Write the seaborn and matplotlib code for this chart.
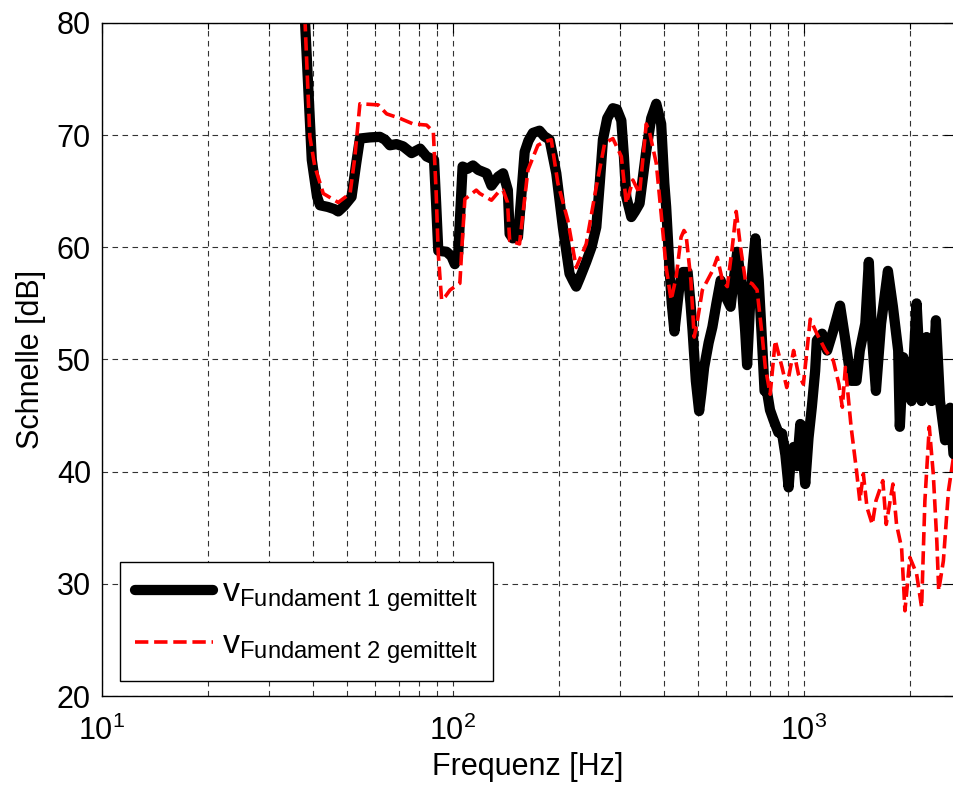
import matplotlib
matplotlib.use("Agg")
import matplotlib.pyplot as plt
import numpy as np
import pandas as pd
import seaborn as sns
from matplotlib.ticker import LogLocator, FixedLocator, NullFormatter

# Averaged velocity level over frequency, foundation 1
freq_1 = [36.5, 37.9, 39.0, 39.6, 41.0, 41.8, 44.0, 46.0, 47.1, 49.0, 51.4, 53.0,
          54.3, 58.0, 61.9, 64.0, 66.1, 69.0, 72.1, 76.2, 80.6, 84.1, 88.3, 89.5,
          90.8, 95.9, 99.0, 101.2, 103.5, 106.5, 110, 114, 118, 124.6, 128.7, 134.5,
          138.9, 143.3, 145, 148, 153.1, 156, 160, 164, 168.9, 176.4, 182, 188.4,
          196.9, 205.6, 214.8, 220, 224.4, 230, 239.6, 248, 256, 262, 267.4, 275,
          285.4, 293, 301.7, 307, 311.7, 322.1, 330, 340, 355.3, 367, 379.4, 391.8,
          400, 404.8, 413.8, 420, 427.4, 441.5, 452, 466, 475, 481.4, 491.9, 502.6,
          510, 519.4, 535, 548.3, 563, 578.9, 598.1, 617.8, 630, 645.3, 655, 666.5,
          680, 688.5, 703.7, 715, 727, 743, 759, 772, 784, 800, 819, 845, 866, 885, 904,
          918, 934, 955, 976, 1008, 1030, 1053, 1076, 1088, 1126, 1164, 1212, 1267, 1312, 1362,
          1411, 1442, 1495, 1530, 1565, 1603, 1658, 1734, 1792, 1855, 1875, 1918,
          1960, 2025, 2093, 2163, 2235, 2310, 2376, 2440, 2523, 2608, 2666, 2750]
level_1 = [90, 80, 72, 67.8, 64.5, 63.75, 63.6, 63.4, 63.2, 63.7, 64.5, 67.5,
           69.7, 69.8, 69.85, 69.6, 69.1, 69.2, 69.0, 68.4, 68.8, 68.1, 67.8, 64,
           59.7, 59.6, 59.2, 58.5, 59.5, 67.2, 67.0, 67.3, 66.9, 66.6, 65.5, 66.3,
           66.6, 65.1, 61.2, 60.8, 60.9, 64, 68.5, 69.5, 70.2, 70.4, 69.9, 69.6,
           66.6, 61.8, 57.65, 57.0, 56.5, 57.3, 58.7, 60, 61.8, 65.8, 69.6, 71.5,
           72.4, 72.3, 71.3, 68, 64.5, 62.7, 63.2, 63.9, 68.6, 71.5, 72.8, 71.0,
           65.7, 63.6, 58.2, 55, 52.5, 56.5, 57.8, 57.8, 55, 52.6, 48.1, 45.4,
           47, 49.3, 51.5, 52.9, 55, 57.05, 55.6, 54.7, 57, 59.6, 58, 56.2,
           52.5, 49.5, 55.6, 58.5, 60.8, 57.05, 51.7, 47.2, 47.2, 45.5, 44.6, 43.5, 43.4, 41.5, 38.6,
           41.5, 42.2, 40.5, 44.25, 38.9, 43, 45.8, 49, 51.7, 52.3, 50.8, 52.6, 54.8, 51.7, 48.1,
           48.1, 50.8, 53.2, 58.7, 51.7, 47.2, 53.2, 57.9, 54.7, 50.8, 44.0, 50.2,
           47.2, 46.3, 55.0, 46.3, 52.0, 46.3, 53.5, 46.3, 42.8, 45.7, 41.6, 41]

# Averaged velocity level over frequency, foundation 2
freq_2 = [36.5, 37.9, 39.1, 40.4, 42.7, 47.1, 50.9, 52.5, 54.3, 61.2, 64.7, 70.6,
          77, 84.1, 87.9, 89.5, 90.8, 92.8, 95, 98.1, 104.6, 106, 108.1, 116.5,
          119.2, 128.7, 134.5, 138.9, 143, 145, 154.7, 163.5, 174.5, 182, 190.5, 199,
          212.4, 224.4, 239.6, 256, 270.6, 285.4, 301.7, 311.7, 325.5, 340, 355.3, 363.3,
          379.4, 391.8, 404.8, 418.3, 432.3, 446.4, 455, 461, 476.2, 486.6, 497.2, 513.4,
          548.3, 566.2, 585.6, 604.6, 624.6, 641, 659.4, 680.8, 711.7, 734.9, 759, 776,
          801, 828, 866, 893, 934, 964, 996, 1042, 1088, 1152, 1212, 1257,
          1286, 1312, 1362, 1411, 1442, 1476, 1512, 1565, 1603, 1677, 1715, 1792,
          1835, 1897, 1939, 2003, 2093, 2163, 2210, 2275, 2335, 2390, 2420, 2495,
          2580, 2666, 2750]
level_2 = [90, 80, 69.85, 67.2, 64.8, 64.0, 64.8, 68, 72.8, 72.7, 71.9, 71.5,
           71.0, 70.9, 70.3, 65, 59.4, 55.3, 55.6, 56.2, 56.8, 60, 64.3, 65.1,
           64.8, 64.2, 64.9, 65.1, 64, 60.6, 60.3, 66.9, 69.1, 69.4, 69.6, 65.7,
           62.4, 58.2, 60.3, 65.4, 69.3, 69.7, 68.1, 63.9, 66.0, 64.8, 71.0, 70.2,
           67.5, 63.0, 58.2, 55.3, 57.35, 60.9, 61.5, 61.2, 57.05, 52.0, 53.5, 56.2,
           57.9, 59.1, 57.05, 56.5, 60.0, 63.2, 60.0, 57.05, 56.75, 56.2, 52.3, 49.3,
           46.9, 51.7, 49.3, 47.5, 50.8, 48.7, 47.8, 53.6, 52.3, 50.8, 49.9, 47.8,
           45.75, 49.3, 44.0, 40.1, 37.4, 39.8, 36.8, 35.3, 37.4, 39.2, 35.3, 38.9,
           35.3, 33.2, 27.6, 32.35, 30.9, 27.9, 37.4, 44.0, 39.8, 33.8, 29.4, 32.05,
           38.3, 41.3, 42]

y_ticks = [20, 30, 40, 50, 60, 70, 80]
label_1 = r"$\mathregular{v}_{\mathregular{Fundament\ 1\ gemittelt}}$"
label_2 = r"$\mathregular{v}_{\mathregular{Fundament\ 2\ gemittelt}}$"

sns.set_theme(style="white")
plt.rcParams["font.family"] = ["Liberation Sans", "DejaVu Sans"]
plt.rcParams["mathtext.fontset"] = "custom"
plt.rcParams["mathtext.rm"] = "Liberation Sans"
plt.rcParams["mathtext.it"] = "Liberation Sans:italic"
plt.rcParams["mathtext.bf"] = "Liberation Sans:bold"
plt.rcParams["text.color"] = "black"
plt.rcParams["axes.labelcolor"] = "black"

df_1 = pd.DataFrame({"f": freq_1, "v": level_1})
df_2 = pd.DataFrame({"f": freq_2, "v": level_2})

W, H = 954, 791
fig = plt.figure(figsize=(W / 100, H / 100), dpi=100)
ax = fig.add_axes([102 / W, 95 / H, 852 / W, 673 / H])

sns.lineplot(data=df_1, x="f", y="v", ax=ax, color="black", lw=7.4,
             sort=False, estimator=None, label=label_1)
sns.lineplot(data=df_2, x="f", y="v", ax=ax, color="#ff0000", lw=2.6,
             linestyle="--", sort=False, estimator=None, label=label_2)

ax.set_xscale("log")
ax.set_xlim(10, 10 ** (1 + 852 / 351))
ax.set_ylim(20, 80)
ax.yaxis.set_major_locator(FixedLocator(y_ticks))
ax.xaxis.set_major_locator(LogLocator(base=10))
ax.xaxis.set_minor_locator(LogLocator(base=10, subs=np.arange(2, 10)))
ax.xaxis.set_minor_formatter(NullFormatter())

grid_kw = dict(color="0.2", linestyle=(0, (5, 4)), linewidth=0.8)
ax.grid(True, which="major", axis="both", **grid_kw)
ax.grid(True, which="minor", axis="x", **grid_kw)

for side in ["left", "top", "bottom", "right"]:
    ax.spines[side].set_color("black")
    ax.spines[side].set_linewidth(1.0)
ax.spines["right"].set_visible(False)

ax.tick_params(which="both", direction="in", top=True, right=True,
               colors="black", labelsize=22)
ax.tick_params(which="major", length=7, width=0.8)
ax.tick_params(which="minor", length=4, width=0.8)
ax.tick_params(axis="x", pad=14)
ax.tick_params(axis="y", pad=8)

ax.set_xlabel("Frequenz [Hz]", fontsize=22, labelpad=4, color="black")
ax.set_ylabel("Schnelle [dB]", fontsize=22, labelpad=8, color="black")

leg = ax.legend(loc="lower left", bbox_to_anchor=(0.021, 0.022),
                borderaxespad=0, fontsize=24.5, handlelength=2.3,
                handletextpad=0.25, labelspacing=0.45, borderpad=0.45,
                frameon=True, fancybox=False, framealpha=1)
leg.get_frame().set_edgecolor("black")
leg.get_frame().set_linewidth(1.0)
for t in leg.get_texts():
    t.set_color("black")

fig.savefig("out.png", dpi=100)
